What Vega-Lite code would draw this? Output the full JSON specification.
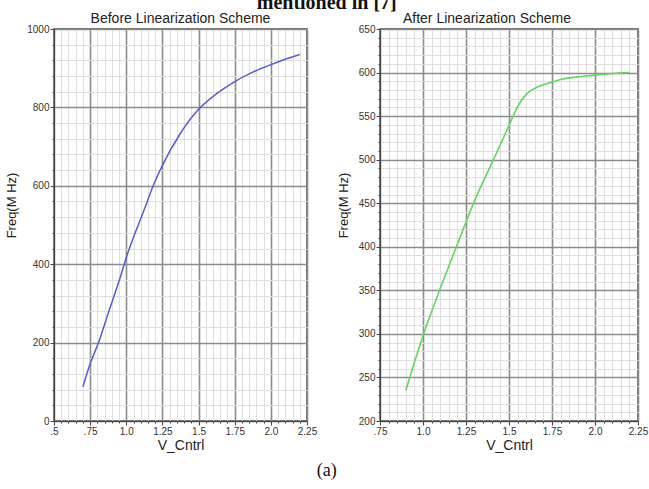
{
  "$schema": "https://vega.github.io/schema/vega-lite/v6.json",
  "background": "white",
  "padding": {"left": 5, "top": -7, "right": 0, "bottom": 5},
  "config": {
    "view": {"stroke": "#444", "strokeWidth": 1.5},
    "axis": {
      "labelFont": "Liberation Sans", "labelFontSize": 10, "labelColor": "#333",
      "titleFont": "Liberation Sans", "titleFontWeight": "normal", "titleColor": "#222",
      "domainColor": "#444", "tickColor": "#444", "labelFlush": false, "labelOverlap": false,
      "labelPadding": 1
    },
    "title": {"font": "Liberation Sans", "fontWeight": "normal", "fontSize": 14, "color": "#222"}
  },
  "title": {"text": "(a)", "orient": "bottom", "anchor": "middle", "font": "Liberation Serif", "fontSize": 18, "fontWeight": "normal", "color": "#111", "offset": 9},
  "vconcat": [
    {
      "title": {"text": "mentioned in [7]", "anchor": "middle", "font": "Liberation Serif", "fontWeight": "bold", "fontSize": 20, "color": "#111", "offset": -2},
      "spacing": 18,
      "hconcat": [
        {
          "width": 253, "height": 392,
          "title": {"text": "Before Linearization Scheme", "offset": -2},
          "data": {"values": [
            {"v": 0.7, "f": 87}, {"v": 0.75, "f": 146}, {"v": 0.808, "f": 200}, {"v": 0.875, "f": 275},
            {"v": 0.95, "f": 357}, {"v": 1.0, "f": 417}, {"v": 1.125, "f": 540}, {"v": 1.184, "f": 598},
            {"v": 1.25, "f": 652}, {"v": 1.375, "f": 734}, {"v": 1.5, "f": 795}, {"v": 1.625, "f": 835},
            {"v": 1.75, "f": 866}, {"v": 1.875, "f": 890}, {"v": 2.0, "f": 909}, {"v": 2.1, "f": 923},
            {"v": 2.2, "f": 935}
          ]},
          "mark": {"type": "line", "color": "#5a5ad8", "strokeWidth": 1.5, "interpolate": "monotone"},
          "encoding": {
            "x": {"field": "v", "type": "quantitative", "scale": {"domain": [0.5, 2.25], "nice": false, "zero": false},
              "axis": {
                "title": "V_Cntrl", "titleFontSize": 14, "titlePadding": 2,
                "values": [0.5,0.55,0.6,0.65,0.7,0.75,0.8,0.85,0.9,0.95,1,1.05,1.1,1.15,1.2,1.25,1.3,1.35,1.4,1.45,1.5,1.55,1.6,1.65,1.7,1.75,1.8,1.85,1.9,1.95,2,2.05,2.1,2.15,2.2,2.25],
                "labelExpr": "abs(datum.value*4 - round(datum.value*4)) < 0.001 ? (datum.value == 1 ? '1.0' : datum.value == 2 ? '2.0' : replace(format(datum.value, '.2~f'), '0.', '.')) : ''",
                "gridColor": {"condition": {"test": "abs(datum.value*4 - round(datum.value*4)) < 0.001", "value": "#8c8c8c"}, "value": "#dedede"},
                "gridWidth": {"condition": {"test": "abs(datum.value*4 - round(datum.value*4)) < 0.001", "value": 1.6}, "value": 1},
                "tickSize": {"condition": {"test": "abs(datum.value*4 - round(datum.value*4)) < 0.001", "value": 4}, "value": 2}
              }},
            "y": {"field": "f", "type": "quantitative", "scale": {"domain": [0, 1000], "nice": false},
              "axis": {
                "title": "Freq(M Hz)", "titleFontSize": 13, "titleY": 176, "titlePadding": 8,
                "values": [0,40,80,120,160,200,240,280,320,360,400,440,480,520,560,600,640,680,720,760,800,840,880,920,960,1000],
                "labelExpr": "datum.value % 200 == 0 ? format(datum.value, 'd') : ''",
                "gridColor": {"condition": {"test": "datum.value % 200 == 0", "value": "#8c8c8c"}, "value": "#dedede"},
                "gridWidth": {"condition": {"test": "datum.value % 200 == 0", "value": 1.6}, "value": 1},
                "tickSize": {"condition": {"test": "datum.value % 200 == 0", "value": 4}, "value": 2}
              }}
          }
        },
        {
          "width": 258, "height": 392,
          "title": {"text": "After Linearization Scheme", "offset": -2, "dx": -22},
          "data": {"values": [
            {"v": 0.9, "f": 235}, {"v": 1.0, "f": 298}, {"v": 1.1, "f": 352}, {"v": 1.2, "f": 403},
            {"v": 1.3, "f": 453}, {"v": 1.4, "f": 496}, {"v": 1.5, "f": 539}, {"v": 1.55, "f": 561},
            {"v": 1.6, "f": 575}, {"v": 1.65, "f": 582}, {"v": 1.7, "f": 586}, {"v": 1.75, "f": 589},
            {"v": 1.8, "f": 592}, {"v": 1.9, "f": 595}, {"v": 2.0, "f": 597}, {"v": 2.1, "f": 599},
            {"v": 2.2, "f": 600}
          ]},
          "mark": {"type": "line", "color": "#5ed85e", "strokeWidth": 1.6, "interpolate": "monotone"},
          "encoding": {
            "x": {"field": "v", "type": "quantitative", "scale": {"domain": [0.75, 2.25], "nice": false, "zero": false},
              "axis": {
                "title": "V_Cntrl", "titleFontSize": 14, "titlePadding": 2,
                "values": [0.75,0.8,0.85,0.9,0.95,1,1.05,1.1,1.15,1.2,1.25,1.3,1.35,1.4,1.45,1.5,1.55,1.6,1.65,1.7,1.75,1.8,1.85,1.9,1.95,2,2.05,2.1,2.15,2.2,2.25],
                "labelExpr": "abs(datum.value*4 - round(datum.value*4)) < 0.001 ? (datum.value == 1 ? '1.0' : datum.value == 2 ? '2.0' : replace(format(datum.value, '.2~f'), '0.', '.')) : ''",
                "gridColor": {"condition": {"test": "abs(datum.value*4 - round(datum.value*4)) < 0.001", "value": "#8c8c8c"}, "value": "#dedede"},
                "gridWidth": {"condition": {"test": "abs(datum.value*4 - round(datum.value*4)) < 0.001", "value": 1.6}, "value": 1},
                "tickSize": {"condition": {"test": "abs(datum.value*4 - round(datum.value*4)) < 0.001", "value": 4}, "value": 2}
              }},
            "y": {"field": "f", "type": "quantitative", "scale": {"domain": [200, 650], "nice": false, "zero": false},
              "axis": {
                "title": "Freq(M Hz)", "titleFontSize": 13, "titleY": 176, "titlePadding": 8,
                "values": [200,210,220,230,240,250,260,270,280,290,300,310,320,330,340,350,360,370,380,390,400,410,420,430,440,450,460,470,480,490,500,510,520,530,540,550,560,570,580,590,600,610,620,630,640,650],
                "labelExpr": "datum.value % 50 == 0 ? format(datum.value, 'd') : ''",
                "gridColor": {"condition": {"test": "datum.value % 50 == 0", "value": "#8c8c8c"}, "value": "#dedede"},
                "gridWidth": {"condition": {"test": "datum.value % 50 == 0", "value": 1.6}, "value": 1},
                "tickSize": {"condition": {"test": "datum.value % 50 == 0", "value": 4}, "value": 2}
              }}
          }
        }
      ]
    }
  ]
}
